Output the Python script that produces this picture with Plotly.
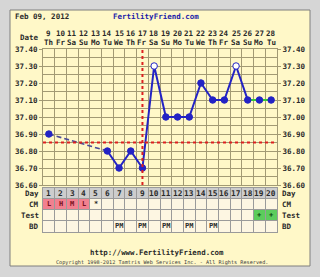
import plotly.graph_objects as go

W, H = 320, 277

# ---------------- data ----------------
days = list(range(1, 21))
dates = [9, 10, 11, 12, 13, 14, 15, 16, 17, 18, 19, 20, 21, 22, 23, 24, 25, 26, 27, 28]
weekdays = ["Th", "Fr", "Sa", "Su", "Mo", "Tu", "We", "Th", "Fr", "Sa",
            "Su", "Mo", "Tu", "We", "Th", "Fr", "Sa", "Su", "Mo", "Tu"]
temps = [36.90, None, None, None, None, 36.80, 36.70, 36.80, 36.70, 37.30,
         37.00, 37.00, 37.00, 37.20, 37.10, 37.10, 37.30, 37.10, 37.10, 37.10]
open_days = [10, 17]
cm = ["L", "H", "M", "L", "*", "", "", "", "", "", "", "", "", "", "", "", "", "", "", ""]
cm_fill_days = [1, 2, 3, 4]
test = {19: "+", 20: "+"}
bd = {7: "PM", 9: "PM", 11: "PM", 13: "PM", 15: "PM"}
coverline = 36.85
ovulation_day = 9
temp_ticks = [36.60, 36.70, 36.80, 36.90, 37.00, 37.10, 37.20, 37.30, 37.40]
row_labels = ["Day", "CM", "Test", "BD"]

# ---------------- helpers ----------------
def px(x):
    return x / W

def py(y):
    return 1 - y / H

MONO = "DejaVu Sans Mono"
TXT = "#2a2a2a"
GRID = "#a29a74"
BLUE = "#2323c4"

fig = go.Figure()

# dashed segment over missing days
first = days[0]
nxt = next(d for d, t in zip(days[1:], temps[1:]) if t is not None)
fig.add_trace(go.Scatter(x=[first, nxt], y=[temps[first - 1], temps[nxt - 1]],
                         mode="lines", line=dict(color="#4a4a98", width=1.6, dash="5px,3px"),
                         hoverinfo="skip", showlegend=False))
# solid line
sx = [d for d in days if d >= nxt]
sy = [temps[d - 1] for d in sx]
fig.add_trace(go.Scatter(x=sx, y=sy, mode="lines", line=dict(color=BLUE, width=2),
                         hoverinfo="skip", showlegend=False))
# green segment (test positive)
gx = [18, 19, 20]
fig.add_trace(go.Scatter(x=gx, y=[temps[d - 1] for d in gx], mode="lines",
                         line=dict(color="#33cc33", width=2), hoverinfo="skip", showlegend=False))
# markers
fx = [d for d, t in zip(days, temps) if t is not None]
fy = [temps[d - 1] for d in fx]
fills = ["white" if d in open_days else BLUE for d in fx]
fig.add_trace(go.Scatter(x=fx, y=fy, mode="markers",
                         marker=dict(size=6.5, color=fills, line=dict(color=BLUE, width=1)),
                         hoverinfo="skip", showlegend=False))
# dummy for table axes
fig.add_trace(go.Scatter(x=[1], y=[0], xaxis="x2", yaxis="y2", mode="markers",
                         marker=dict(opacity=0), hoverinfo="skip", showlegend=False))
# dummy for right axis
fig.add_trace(go.Scatter(x=[1], y=[37.0], yaxis="y3", mode="markers",
                         marker=dict(opacity=0), hoverinfo="skip", showlegend=False))

shapes = []
# outer panel
shapes.append(dict(type="rect", xref="paper", yref="paper", x0=px(10), x1=px(310), y0=py(266), y1=py(10),
                   fillcolor="#fff8c8", line=dict(color="#7f7f7f", width=1), layer="below"))
# table rows backgrounds
shapes.append(dict(type="rect", xref="x2", yref="y2", x0=0.5, x1=20.5, y0=3, y1=4,
                   fillcolor="#cdcdcd", line=dict(width=0), layer="below"))
shapes.append(dict(type="rect", xref="x2", yref="y2", x0=0.5, x1=20.5, y0=0, y1=3,
                   fillcolor="#fdf6e2", line=dict(width=0), layer="below"))
for d in cm_fill_days:
    shapes.append(dict(type="rect", xref="x2", yref="y2", x0=d - 0.5, x1=d + 0.5, y0=2, y1=3,
                       fillcolor="#f2808f", line=dict(width=0), layer="below"))
for d in test:
    shapes.append(dict(type="rect", xref="x2", yref="y2", x0=d - 0.5, x1=d + 0.5, y0=1, y1=2,
                       fillcolor="#5ccc5c", line=dict(width=0), layer="below"))
# coverline & ovulation line
shapes.append(dict(type="line", xref="x", yref="y", x0=0.5, x1=20.5, y0=coverline, y1=coverline,
                   line=dict(color="#dd2020", width=2, dash="dot"), layer="above"))
shapes.append(dict(type="line", xref="x", yref="y", x0=ovulation_day, x1=ovulation_day,
                   y0=temp_ticks[0], y1=temp_ticks[-1],
                   line=dict(color="#dd2020", width=2, dash="dot"), layer="above"))

ann = []
def txt(x, y, s, xref="paper", yref="paper", xanchor="center", size=7.5, color=TXT, bold=True, family=MONO):
    ann.append(dict(x=x, y=y, xref=xref, yref=yref, text=s, showarrow=False, xanchor=xanchor,
                    yanchor="middle", font=dict(family=family, size=size, color=color,
                                                weight="bold" if bold else "normal")))

txt(px(13), py(17), "Feb 09, 2012", xanchor="left")
txt(px(156), py(17), "FertilityFriend.com", color="#1c1ca8")
txt(px(41), py(37), "Date", xanchor="right")
for d, dt, wd in zip(days, dates, weekdays):
    txt(d, py(33), str(dt), xref="x")
    txt(d, py(43), wd, xref="x")
# table text
for i, lab in enumerate(row_labels):
    yc = 3.45 - i
    txt(px(41), yc, lab, yref="y2", xanchor="right")
    txt(px(280), yc, lab, yref="y2", xanchor="left")
for d in days:
    txt(d, 3.45, str(d), xref="x2", yref="y2", size=7.8)
    if cm[d - 1]:
        txt(d, 2.5, cm[d - 1], xref="x2", yref="y2", size=7, color="#7a1020" if d in cm_fill_days else TXT)
    if d in test:
        txt(d, 1.5, test[d], xref="x2", yref="y2", size=7, color="#0a400a")
    if d in bd:
        txt(d, 0.5, bd[d], xref="x2", yref="y2", size=7)
txt(px(157), py(252), "http://www.FertilityFriend.com", size=7.4)
txt(px(162), py(262), "Copyright 1998-2012 Tamtris Web Services Inc. - All Rights Reserved.",
    size=5.2, color="#3a3a3a", bold=False)

tickfont = dict(family=MONO, size=7.5, color=TXT, weight="bold")
fig.update_layout(
    width=W, height=H, autosize=False,
    margin=dict(l=0, r=0, t=0, b=0),
    paper_bgcolor="#d6d6d6", plot_bgcolor="#fff4b4",
    shapes=shapes, annotations=ann,
    xaxis=dict(domain=[px(43), px(277)], range=[0.5, 20.5], tick0=0.5, dtick=1,
               showticklabels=False, showgrid=True, gridcolor=GRID, gridwidth=1,
               zeroline=False, showline=True, linecolor=GRID, mirror=True, anchor="y",
               ticks="", fixedrange=True),
    yaxis=dict(domain=[py(185), py(49)], range=[temp_ticks[0], temp_ticks[-1]],
               tickvals=temp_ticks, ticktext=["%.2f" % t for t in temp_ticks],
               showgrid=True, gridcolor=GRID, zeroline=False,
               minor=dict(dtick=0.05, tick0=36.6, showgrid=True, gridcolor=GRID, ticks=""),
               ticks="outside", ticklen=3, tickcolor=GRID, tickfont=tickfont,
               showline=True, linecolor=GRID, mirror=True, automargin=False, anchor="x"),
    yaxis3=dict(overlaying="y", side="right", range=[temp_ticks[0], temp_ticks[-1]],
                tickvals=temp_ticks, ticktext=["%.2f" % t for t in temp_ticks],
                showgrid=False, zeroline=False, ticks="outside", ticklen=3, tickcolor=GRID,
                tickfont=tickfont, automargin=False, anchor="x"),
    xaxis2=dict(domain=[px(43), px(277)], range=[0.5, 20.5], tick0=0.5, dtick=1,
                showticklabels=False, showgrid=True, gridcolor="#9a9a9a", zeroline=False,
                showline=True, linecolor="#9a9a9a", mirror=True, anchor="y2", ticks=""),
    yaxis2=dict(domain=[py(232), py(187.5)], range=[0, 4], dtick=1, tick0=0,
                showticklabels=False, showgrid=True, gridcolor="#9a9a9a", zeroline=False,
                showline=True, linecolor="#9a9a9a", mirror=True, anchor="x2", ticks=""),
)

fig.write_html("out.html")
